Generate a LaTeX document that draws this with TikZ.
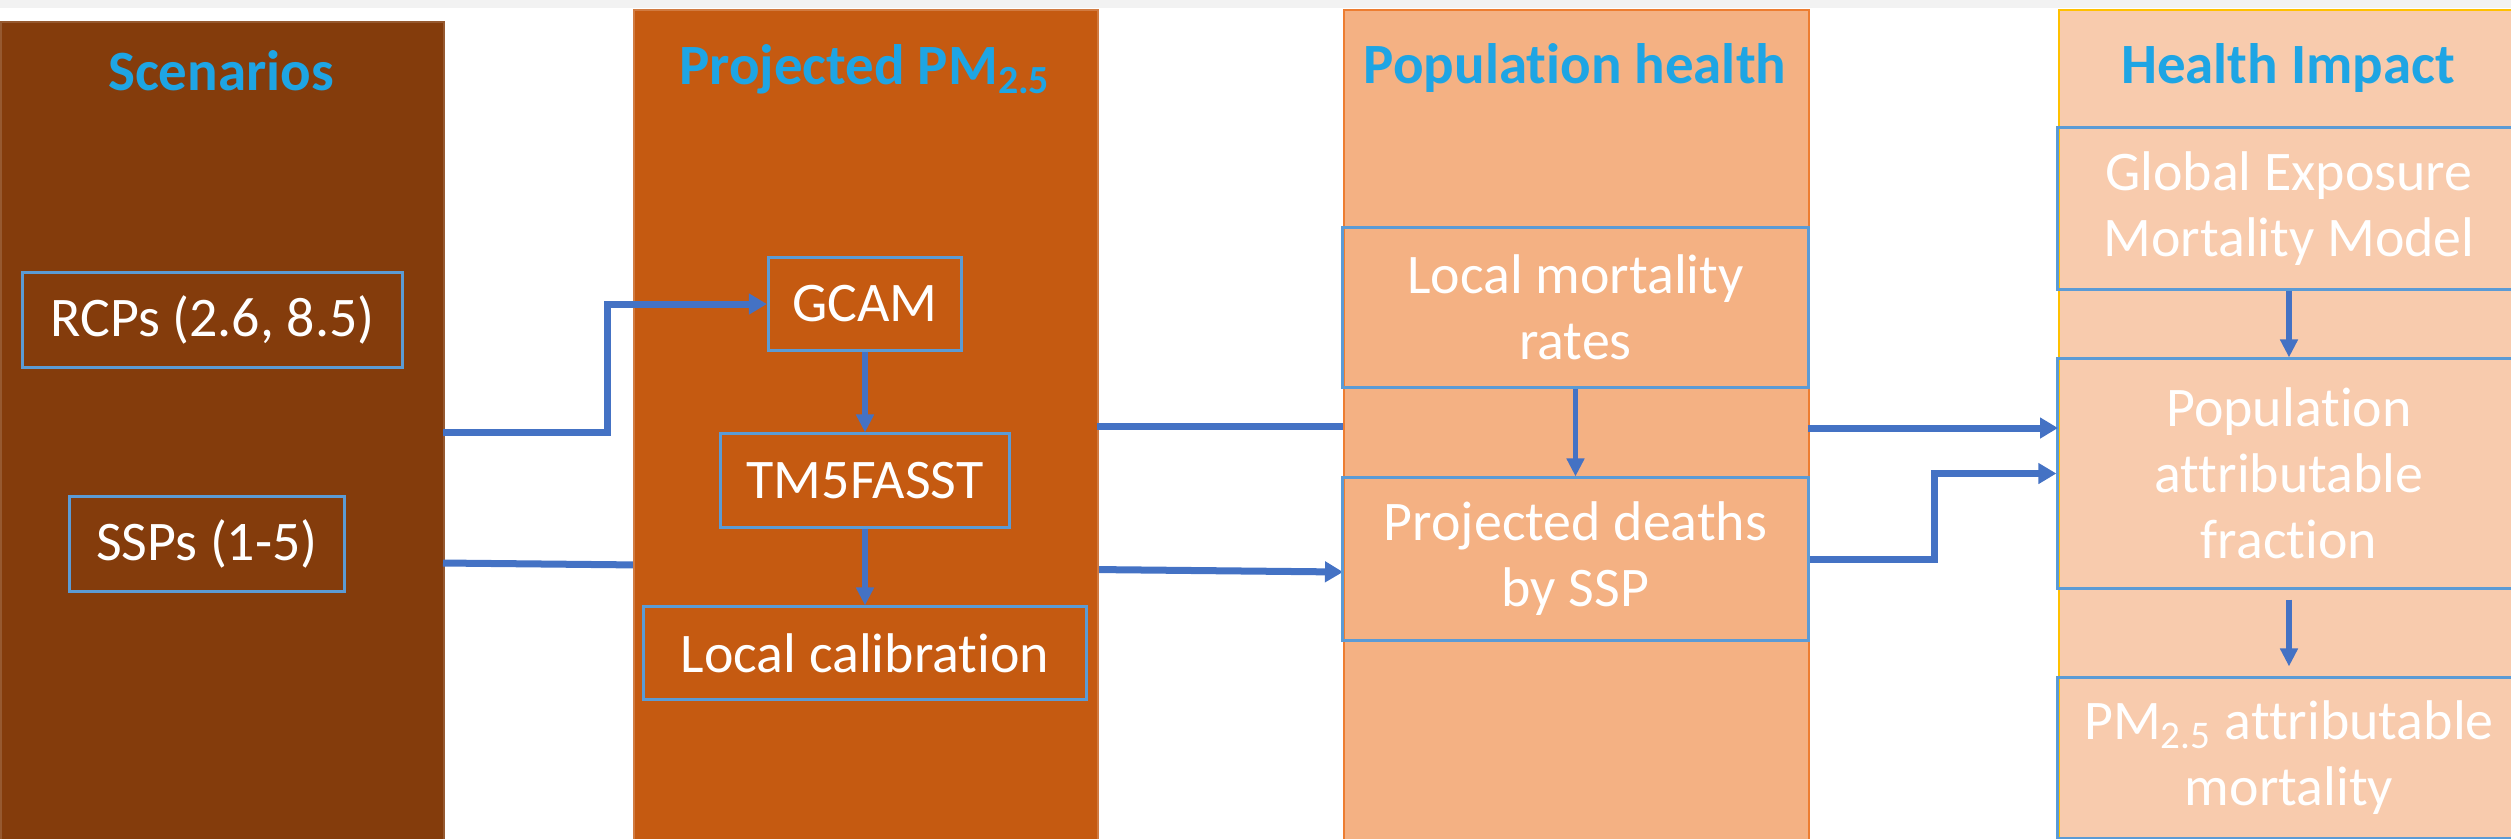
\documentclass[tikz,border=0pt]{standalone}
\usepackage{fontspec}
\setmainfont{Carlito}[Ligatures=CommonOff]
\usetikzlibrary{arrows.meta}

\definecolor{scenbrown}{HTML}{843C0C}
\definecolor{projorange}{HTML}{C55A11}
\definecolor{poppeach}{HTML}{F4B183}
\definecolor{impactpeach}{HTML}{F8CBAD}
\definecolor{popedge}{HTML}{ED7D31}
\definecolor{impactedge}{HTML}{FFC000}
\definecolor{boxedge}{HTML}{5B9BD5}
\definecolor{flowblue}{HTML}{4472C4}
\definecolor{headblue}{RGB}{30,165,228}
\definecolor{topband}{HTML}{F2F2F2}

\newcommand\boxfont{\fontsize{15.9}{18.8}\selectfont}
\newcommand\colheadfont{\bfseries\fontsize{16.2}{19}\selectfont}

\tikzset{
	column/.style={shape=rectangle, anchor=north west, inner sep=0pt, line width=0.02cm},
	colhead/.style={anchor=base, font=\colheadfont, text=headblue},
	stepbox/.style={shape=rectangle, draw=boxedge, line width=0.03cm, inner sep=0pt, align=center, text=white, font=\boxfont},
	flow/.style={draw=flowblue, line width=0.07cm, -{Triangle[length=0.18cm, width=0.2cm]}},
	dropflow/.style={draw=flowblue, line width=0.055cm, -{Triangle[length=0.18cm, width=0.17cm]}},
}

\begin{document}
\begin{tikzpicture}[x=0.01cm, y=-0.01cm]
			\useasboundingbox (0,0) rectangle (2511,838);
			\fill[topband] (0,0) rectangle (2511,8);
			
			\node (scen)[column, fill=scenbrown, draw=scenbrown!85!white, minimum width=4.43cm, minimum height=8.3cm] 
			at (0,21) {};
			
			\node (scenhead)[colhead] at (221,90) {Scenarios};
			
			\node (rcp)[stepbox, minimum width=3.79cm, minimum height=0.94cm] 
			at (212.5,320) {RCPs (2.6, 8.5)};
			
			\node (ssp)[stepbox, minimum width=2.74cm, minimum height=0.94cm] 
			at (207,544) {SSPs (1-5)};
			
			\coordinate (sspout) at (443,563);
			\coordinate (sspin) at (1343,572);
			\draw[flow] (sspout) -- (sspin);
			
			\node (proj)[column, fill=projorange, draw=projorange!80!white, minimum width=4.64cm, minimum height=8.4cm] 
			at (633,9) {};
			
			\node (projhead)[colhead] at (865,84) {Projected PM\textsubscript{2.5}};
			
			\node (gcam)[stepbox, minimum width=1.93cm, minimum height=0.92cm] 
			at (865,304) {GCAM};
			
			\node (tm5)[stepbox, minimum width=2.88cm, minimum height=0.93cm] 
			at (865,480.5) {TM5FASST};
			
			\node (calib)[stepbox, minimum width=4.42cm, minimum height=0.92cm] 
			at (865,653) {Local calibration};
			
			\node (pophealth)[column, fill=poppeach, draw=popedge, minimum width=4.65cm, minimum height=8.4cm] 
			at (1343,9) {};
			
			\node (pophead)[colhead] at (1575,83) {Population health};
			
			\node (lmr)[stepbox, minimum width=4.65cm, minimum height=1.59cm] 
			at (1575.5,307.5) {
				Local mortality \\
				rates
			};
			
			\node (pds)[stepbox, minimum width=4.65cm, minimum height=1.62cm] 
			at (1575.5,559) {
				Projected deaths \\
				by SSP
			};
			
			\node (impact)[column, fill=impactpeach, draw=impactedge, minimum width=4.7cm, minimum height=8.4cm] 
			at (2058,9) {};
			
			\node (impacthead)[colhead] at (2288,83) {Health Impact};
			
			\node (gemm)[stepbox, minimum width=4.62cm, minimum height=1.61cm] 
			at (2289,208.5) {
				Global Exposure \\
				Mortality Model
			};
			
			\node (paf)[stepbox, minimum width=4.62cm, minimum height=2.29cm] 
			at (2289,473.5) {
				Population \\
				attributable \\
				fraction
			};
			
			\node (pmmort)[stepbox, minimum width=4.62cm, minimum height=1.6cm] 
			at (2289,758) {
				PM\textsubscript{2.5} attributable \\
				mortality
			};
			
			\coordinate (rcpout) at (443,432);
			\coordinate (projout) at (1097,426);
			\coordinate (popin) at (1343,426);
			\coordinate (popout) at (1808,428);
			\coordinate (impactin) at (2058,428);
			
			\draw[flow] (rcpout) -- ++(164,0) |- (gcam.west);
			\draw[dropflow] (gcam) -- (tm5);
			\draw[dropflow] (tm5) -- (calib);
			\draw[draw=flowblue, line width=0.07cm] (projout) -- (popin);
			\draw[dropflow] (lmr) -- (pds);
			\draw[flow] (popout) -- (impactin);
			\draw[flow] (pds.east) -- ++(125,0) |- (paf.west);
			\draw[dropflow] (gemm) -- (paf);
			\draw[dropflow, shorten <=0.1cm, shorten >=0.1cm] (paf) -- (pmmort);
\end{tikzpicture}
\end{document}
